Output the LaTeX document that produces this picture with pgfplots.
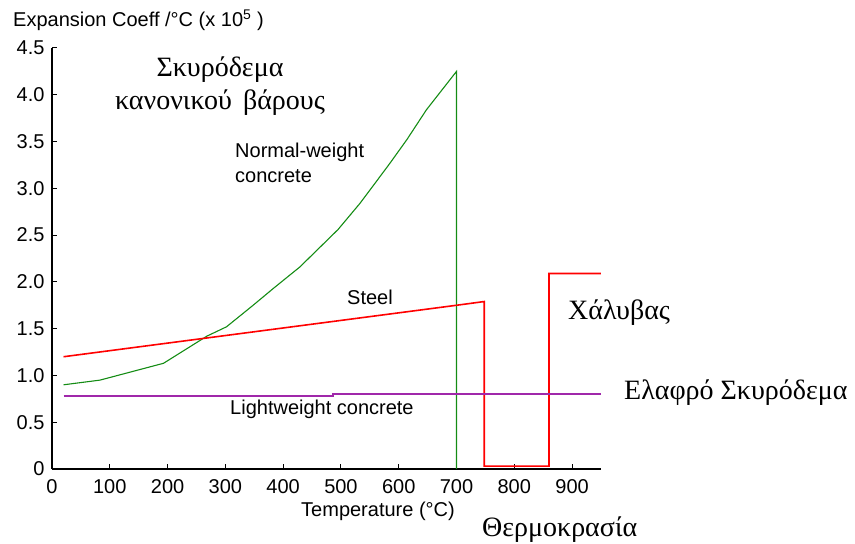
\documentclass[border=0pt]{standalone}
\usepackage{pgfplots}
\pgfplotsset{compat=1.18}
\usepackage{fontspec}
\setmainfont{Liberation Sans}
\newfontfamily\grk{Liberation Serif}
\definecolor{ngreen}{RGB}{20,140,20}
\definecolor{lwpurple}{RGB}{160,40,170}
\begin{document}
\begin{tikzpicture}[x=1pt,y=1pt]
\path[use as bounding box] (0,0) rectangle (855,544);
\begin{axis}[
 at={(52pt,75pt)}, anchor=origin,
 scale only axis, width=549pt, height=421pt,
 xmin=0, xmax=950, ymin=0, ymax=4.5,
 axis x line=bottom, axis y line=left,
 axis line style={-, line width=1.5pt},
 xtick={0,100,...,900}, ytick={0,0.5,...,4.5},
 yticklabels={0,0.5,1.0,1.5,2.0,2.5,3.0,3.5,4.0,4.5},
 tick style={black, line width=1pt}, major tick length=5pt,
 tick align=inside,
 ticklabel style={font=\fontsize{20}{24}\selectfont},
 xticklabel style={yshift=-7pt},
 yticklabel style={xshift=-4pt},
 /pgf/number format/assume math mode=true,
 clip=false,
]
% Normal-weight concrete
\addplot[ngreen, line width=1.1pt] coordinates {
 (20,0.90) (83,0.95) (193,1.13) (268,1.42) (302,1.52) (348,1.75) (383,1.93)
 (429,2.16) (495,2.56) (533,2.84) (550,2.98) (585,3.27) (614,3.52) (648,3.84)
 (700,4.25) (700,0)
};
% Steel
\addplot[red, line width=1.6pt] coordinates {
 (20,1.20) (700,1.75) (748,1.79) (748,0.03) (860,0.03) (860,2.09) (950,2.09)
};
% Lightweight concrete
\addplot[lwpurple, line width=1.6pt] coordinates {
 (20,0.78) (486,0.78) (486,0.80) (950,0.80)
};
\end{axis}
\node[anchor=base west, inner sep=0pt, font=\fontsize{20}{24}\selectfont] at (13,517) {Expansion Coeff /°C (x 10\textsuperscript{5} )};
\node[anchor=base, inner sep=0pt, font=\grk\fontsize{28}{32}\selectfont] at (220,467) {Σκυρόδεμα};
\node[anchor=base, inner sep=0pt, font=\grk\fontsize{28}{32}\selectfont] at (220,434) {κανονικού\hspace{0.4em}βάρους};
\node[anchor=base west, inner sep=0pt, font=\fontsize{20}{24}\selectfont] at (235,386) {Normal-weight};
\node[anchor=base west, inner sep=0pt, font=\fontsize{20}{24}\selectfont] at (235,361) {concrete};
\node[anchor=base west, inner sep=0pt, font=\fontsize{20}{24}\selectfont] at (347,239) {Steel};
\node[anchor=base west, inner sep=0pt, font=\fontsize{20}{24}\selectfont] at (230,129) {Lightweight concrete};
\node[anchor=base west, inner sep=0pt, font=\grk\fontsize{28}{32}\selectfont] at (568,224) {Χάλυβας};
\node[anchor=base west, inner sep=0pt, font=\grk\fontsize{28}{32}\selectfont] at (624,144) {Ελαφρό Σκυρόδεμα};
\node[anchor=base, inner sep=0pt, font=\fontsize{20}{24}\selectfont] at (378,27) {Temperature (°C)};
\node[anchor=base west, inner sep=0pt, font=\grk\fontsize{28}{32}\selectfont] at (482,7) {Θερμοκρασία};
\end{tikzpicture}
\end{document}
